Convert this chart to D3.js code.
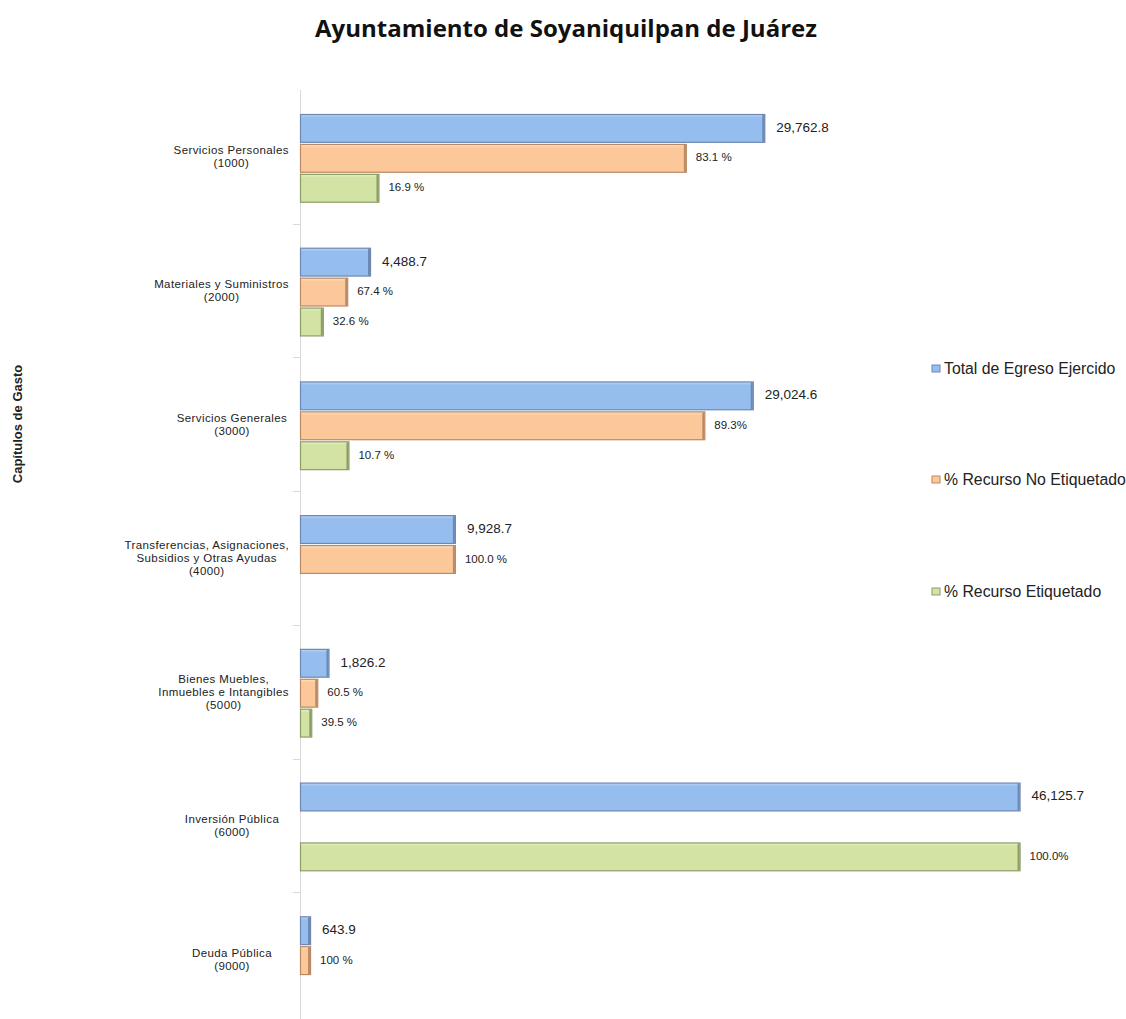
<!DOCTYPE html>
<html>
<head>
<meta charset="utf-8">
<script src="https://cdn.jsdelivr.net/npm/d3@7"></script>
<style>
  body { margin: 0; background: #fff; }
  svg { display: block; }
  svg text { font-family: "Liberation Sans", Arial, sans-serif; }
  svg text.title { font-family: "Open Sans", sans-serif; }
</style>
</head>
<body>
<svg width="1126" height="1019"></svg>
<script>
// data
const categories = [
  ["Servicios Personales", "(1000)"],
  ["Materiales y Suministros", "(2000)"],
  ["Servicios Generales", "(3000)"],
  ["Transferencias, Asignaciones,", "Subsidios y Otras Ayudas", "(4000)"],
  ["Bienes Muebles,", "Inmuebles e Intangibles", "(5000)"],
  ["Inversión Pública", "(6000)"],
  ["Deuda Pública", "(9000)"]
];
const totals = [29762.8, 4488.7, 29024.6, 9928.7, 1826.2, 46125.7, 643.9];
const pctNoEtiq = [83.1, 67.4, 89.3, 100.0, 60.5, 0, 100];
const pctEtiq = [16.9, 32.6, 10.7, 0, 39.5, 100, 0];
const labelsNoEtiq = ["83.1 %", "67.4 %", "89.3%", "100.0 %", "60.5 %", "", "100 %"];
const labelsEtiq = ["16.9 %", "32.6 %", "10.7 %", "", "39.5 %", "100.0%", ""];
const seriesNames = ["Total de Egreso Ejercido", "% Recurso No Etiquetado", "% Recurso Etiquetado"];

const colors = [
  { fill: "#95bdee", light: "#bcd6f6", dark: "#6d88b3" },
  { fill: "#fcc89a", light: "#fde0c4", dark: "#b98a66" },
  { fill: "#d2e3a3", light: "#e6f0c8", dark: "#8c9d68" }
];

const svg = d3.select("svg");

// title
svg.append("text")
  .attr("class", "title")
  .attr("x", 566).attr("y", 37)
  .attr("text-anchor", "middle")
  .attr("font-weight", "bold")
  .attr("font-size", "24px")
  .attr("fill", "#111")
  .text("Ayuntamiento de Soyaniquilpan de Juárez");

// gradients for the bevelled bars
const defs = svg.append("defs");
colors.forEach((c, i) => {
  const gr = defs.append("linearGradient").attr("id", "g" + i)
    .attr("x1", 0).attr("y1", 0).attr("x2", 0).attr("y2", 1);
  gr.append("stop").attr("offset", "0%").attr("stop-color", c.light);
  gr.append("stop").attr("offset", "12%").attr("stop-color", c.fill);
  gr.append("stop").attr("offset", "100%").attr("stop-color", c.fill);
});

const x = d3.scaleLinear().domain([0, 50000]).range([300, 1080]);
const y = d3.scaleBand().domain(d3.range(categories.length)).range([90, 1026]);
const inner = d3.scaleBand().domain([0, 1, 2]).range([24, y.bandwidth() - 22]).paddingInner(0.07);

// axis line and category ticks
svg.append("line")
  .attr("x1", 300.5).attr("x2", 300.5).attr("y1", 90).attr("y2", 1019)
  .attr("stroke", "#d9d9d9");
svg.selectAll(".sep").data(d3.range(1, categories.length)).join("line")
  .attr("x1", 293).attr("x2", 300)
  .attr("y1", d => Math.round(y(d)) + 0.5).attr("y2", d => Math.round(y(d)) + 0.5)
  .attr("stroke", "#d9d9d9");

// y title
svg.append("text")
  .attr("transform", "translate(22,424) rotate(-90)")
  .attr("text-anchor", "middle")
  .attr("font-weight", "bold")
  .attr("font-size", "13px")
  .attr("fill", "#222")
  .text("Capítulos de Gasto");

// category labels: block centred on its lines, right edge near the axis
categories.forEach((lines, i) => {
  const cy = y(i) + y.bandwidth() / 2;
  const t = svg.append("text")
    .attr("text-anchor", "middle")
    .attr("font-size", "11.5px")
    .attr("fill", "#222")
    .attr("letter-spacing", "0.4px");
  const spans = lines.map((l, j) => t.append("tspan")
    .attr("y", cy + (j - (lines.length - 1) / 2) * 12.8 + 4)
    .text(l));
  const maxW = d3.max(spans, s => s.node().getComputedTextLength());
  const cx = Math.min(232, 289 - maxW / 2);
  spans.forEach(s => s.attr("x", cx));
});

// bars
const rows = [];
totals.forEach((t, i) => {
  rows.push({ cat: i, s: 0, v: t, label: d3.format(",.1f")(t), big: true });
  rows.push({ cat: i, s: 1, v: t * pctNoEtiq[i] / 100, label: labelsNoEtiq[i] });
  rows.push({ cat: i, s: 2, v: t * pctEtiq[i] / 100, label: labelsEtiq[i] });
});

const g = svg.append("g");
g.selectAll("rect.bar").data(rows.filter(d => d.v > 0)).join("rect")
  .attr("class", "bar")
  .attr("x", x(0) + 0.5)
  .attr("y", d => y(d.cat) + inner(d.s) + 0.5)
  .attr("width", d => x(d.v) - x(0))
  .attr("height", inner.bandwidth())
  .attr("fill", d => `url(#g${d.s})`)
  .attr("stroke", d => colors[d.s].dark)
  .attr("stroke-width", 1.2);

// darker right edge
g.selectAll("line.edge").data(rows.filter(d => d.v > 0)).join("line")
  .attr("class", "edge")
  .attr("x1", d => x(d.v) - 1).attr("x2", d => x(d.v) - 1)
  .attr("y1", d => y(d.cat) + inner(d.s) + 1)
  .attr("y2", d => y(d.cat) + inner(d.s) + inner.bandwidth())
  .attr("stroke", d => colors[d.s].dark)
  .attr("stroke-width", 2);

g.selectAll("text.val").data(rows.filter(d => d.label)).join("text")
  .attr("class", "val")
  .attr("x", d => x(d.v) + (d.big ? 12 : 10))
  .attr("y", d => y(d.cat) + inner(d.s) + inner.bandwidth() / 2 + (d.big ? 4 : 3.5))
  .attr("font-size", d => d.big ? "13.5px" : "11.5px")
  .attr("fill", "#222")
  .text(d => d.label);

// legend
const legY = [369, 480, 592];
const leg = svg.append("g");
seriesNames.forEach((name, i) => {
  leg.append("rect")
    .attr("x", 932).attr("y", legY[i] - 4)
    .attr("width", 8).attr("height", 7)
    .attr("fill", colors[i].fill)
    .attr("stroke", colors[i].dark);
  leg.append("text")
    .attr("x", 944).attr("y", legY[i] + 5)
    .attr("font-size", "15.8px")
    .attr("fill", "#222")
    .text(name);
});
</script>
</body>
</html>
